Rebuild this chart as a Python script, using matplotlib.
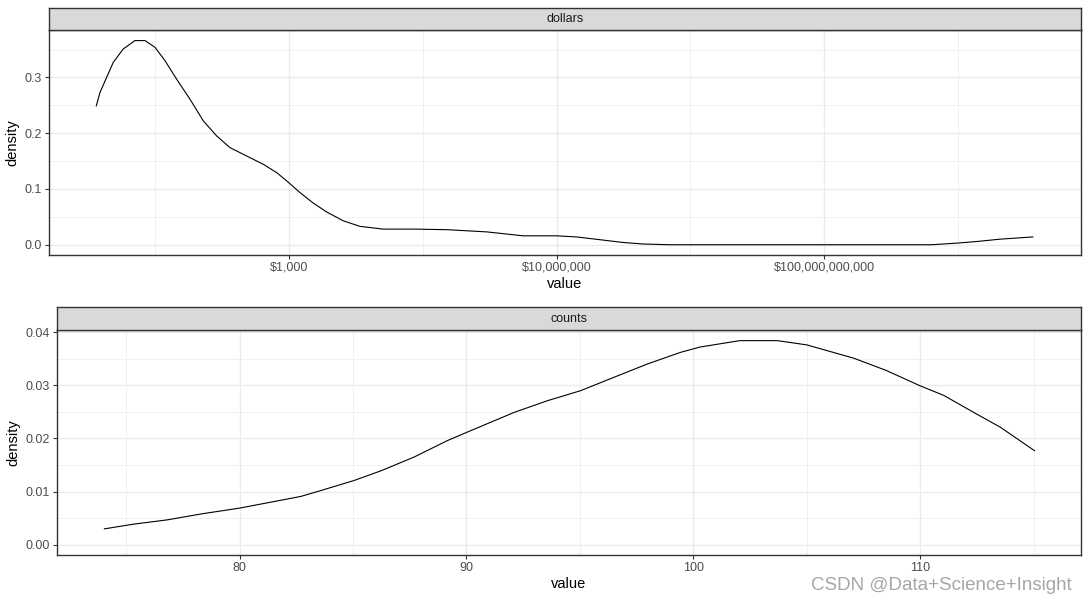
import numpy as np
import matplotlib
matplotlib.use('Agg')
from matplotlib import pyplot as plt
from matplotlib.ticker import FuncFormatter, FixedLocator

plt.rcParams['font.family'] = ['Liberation Sans', 'DejaVu Sans']

# top facet: density of log10(dollars)
dollar_log10 = [0.12, 0.175, 0.374, 0.523, 0.698, 0.848, 0.997, 1.147, 1.32, 1.52,
                1.72, 1.92, 2.12, 2.37, 2.62, 2.82, 3.0, 3.16, 3.36, 3.56,
                3.81, 4.06, 4.41, 4.9, 5.36, 5.96, 6.5, 7.0, 7.3, 7.65,
                8.0, 8.3, 8.69, 10.0, 11.0, 12.6, 13.0, 13.3, 13.63, 14.12]
dollar_density = [0.249, 0.273, 0.327, 0.351, 0.366, 0.366, 0.354, 0.330, 0.297, 0.261,
                  0.222, 0.195, 0.174, 0.159, 0.144, 0.129, 0.111, 0.094, 0.075, 0.059,
                  0.043, 0.033, 0.028, 0.028, 0.027, 0.023, 0.016, 0.016, 0.014, 0.009,
                  0.004, 0.0013, 0.0, 0.0, 0.0, 0.0, 0.003, 0.006, 0.010, 0.014]

# bottom facet: density of counts
count_x = [74.04, 75.36, 76.83, 78.3, 80.0, 81.23, 82.7, 83.58, 85.05, 86.22,
           87.69, 89.16, 90.04, 92.1, 93.57, 95.04, 96.5, 97.97, 99.44, 100.3,
           102.05, 103.7, 105.0, 107.07, 108.5, 110.0, 111.04, 112.36, 113.54, 115.04]
count_density = [0.0030, 0.0039, 0.0047, 0.0058, 0.0069, 0.0079, 0.0091, 0.0102, 0.0121, 0.0139,
                  0.0165, 0.0196, 0.0212, 0.0249, 0.0271, 0.0290, 0.0315, 0.0340, 0.0362, 0.0372,
                  0.0384, 0.0384, 0.0376, 0.0351, 0.0328, 0.0299, 0.0281, 0.0249, 0.0221, 0.0177]

dollar_ticks = [1e3, 1e7, 1e11]
dollar_minor = [1e1, 1e5, 1e9, 1e13]
dollar_yticks = [0.0, 0.1, 0.2, 0.3]
dollar_yminor = [0.05, 0.15, 0.25, 0.35]
count_ticks = [80, 90, 100, 110]
count_minor = [75, 85, 95, 105, 115]
count_yticks = [0.0, 0.01, 0.02, 0.03, 0.04]
count_yminor = [0.005, 0.015, 0.025, 0.035]

W, H = 1088, 600
fig = plt.figure(figsize=(W / 100, H / 100), dpi=100)


def box(l, t, r, b):
    return [l / W, 1 - b / H, (r - l) / W, (b - t) / H]


def style(ax, xmaj, xmin, ymaj, ymin):
    ax.xaxis.set_major_locator(FixedLocator(xmaj))
    ax.xaxis.set_minor_locator(FixedLocator(xmin))
    ax.yaxis.set_major_locator(FixedLocator(ymaj))
    ax.yaxis.set_minor_locator(FixedLocator(ymin))
    ax.grid(True, which='major', color='#EBEBEB', lw=1.0)
    ax.grid(True, which='minor', color='#EBEBEB', lw=0.5)
    ax.set_axisbelow(True)
    for s in ax.spines.values():
        s.set_color('#333333')
        s.set_linewidth(1.0)
    ax.tick_params(which='major', length=3, width=0.8, color='#333333',
                   labelsize=9, labelcolor='#4D4D4D', pad=2)
    ax.tick_params(which='minor', length=0)
    ax.set_xlabel('value', fontsize=10.5, color='black', labelpad=2)
    ax.set_ylabel('density', fontsize=10.5, color='black', labelpad=4)


def strip(rect, label):
    sa = fig.add_axes(rect)
    sa.set_facecolor('#D9D9D9')
    sa.set_xticks([])
    sa.set_yticks([])
    for s in sa.spines.values():
        s.set_color('#333333')
        s.set_linewidth(1.0)
    sa.text(0.5, 0.5, label, ha='center', va='center', fontsize=9, color='#1A1A1A',
            transform=sa.transAxes)


# top panel
ax1 = fig.add_axes(box(49, 30, 1081, 255))
ax1.plot(np.power(10.0, dollar_log10), dollar_density, color='black', lw=0.8)
ax1.set_xscale('log')
ax1.set_xlim(10 ** -0.587, 10 ** 14.84)
ax1.set_ylim(-0.0184, 0.385)
style(ax1, dollar_ticks, dollar_minor, dollar_yticks, dollar_yminor)
ax1.xaxis.set_major_formatter(FuncFormatter(lambda v, p: '${:,.0f}'.format(v)))
ax1.xaxis.set_minor_formatter(FuncFormatter(lambda v, p: ''))
ax1.yaxis.set_major_formatter(FuncFormatter(lambda v, p: '{:.1f}'.format(v)))
strip(box(49, 8, 1081, 30), 'dollars')

# bottom panel
ax2 = fig.add_axes(box(57, 330, 1081, 555))
ax2.plot(count_x, count_density, color='black', lw=0.8)
ax2.set_xlim(71.95, 117.09)
ax2.set_ylim(-0.00192, 0.0404)
style(ax2, count_ticks, count_minor, count_yticks, count_yminor)
ax2.yaxis.set_major_formatter(FuncFormatter(lambda v, p: '{:.2f}'.format(v)))
strip(box(57, 307, 1081, 330), 'counts')

fig.text(1072 / W, 1 - 590 / H, 'CSDN @Data+Science+Insight', ha='right', va='baseline',
         fontsize=13.5, color='#A6A6A6')

fig.savefig('out.png', dpi=100)
